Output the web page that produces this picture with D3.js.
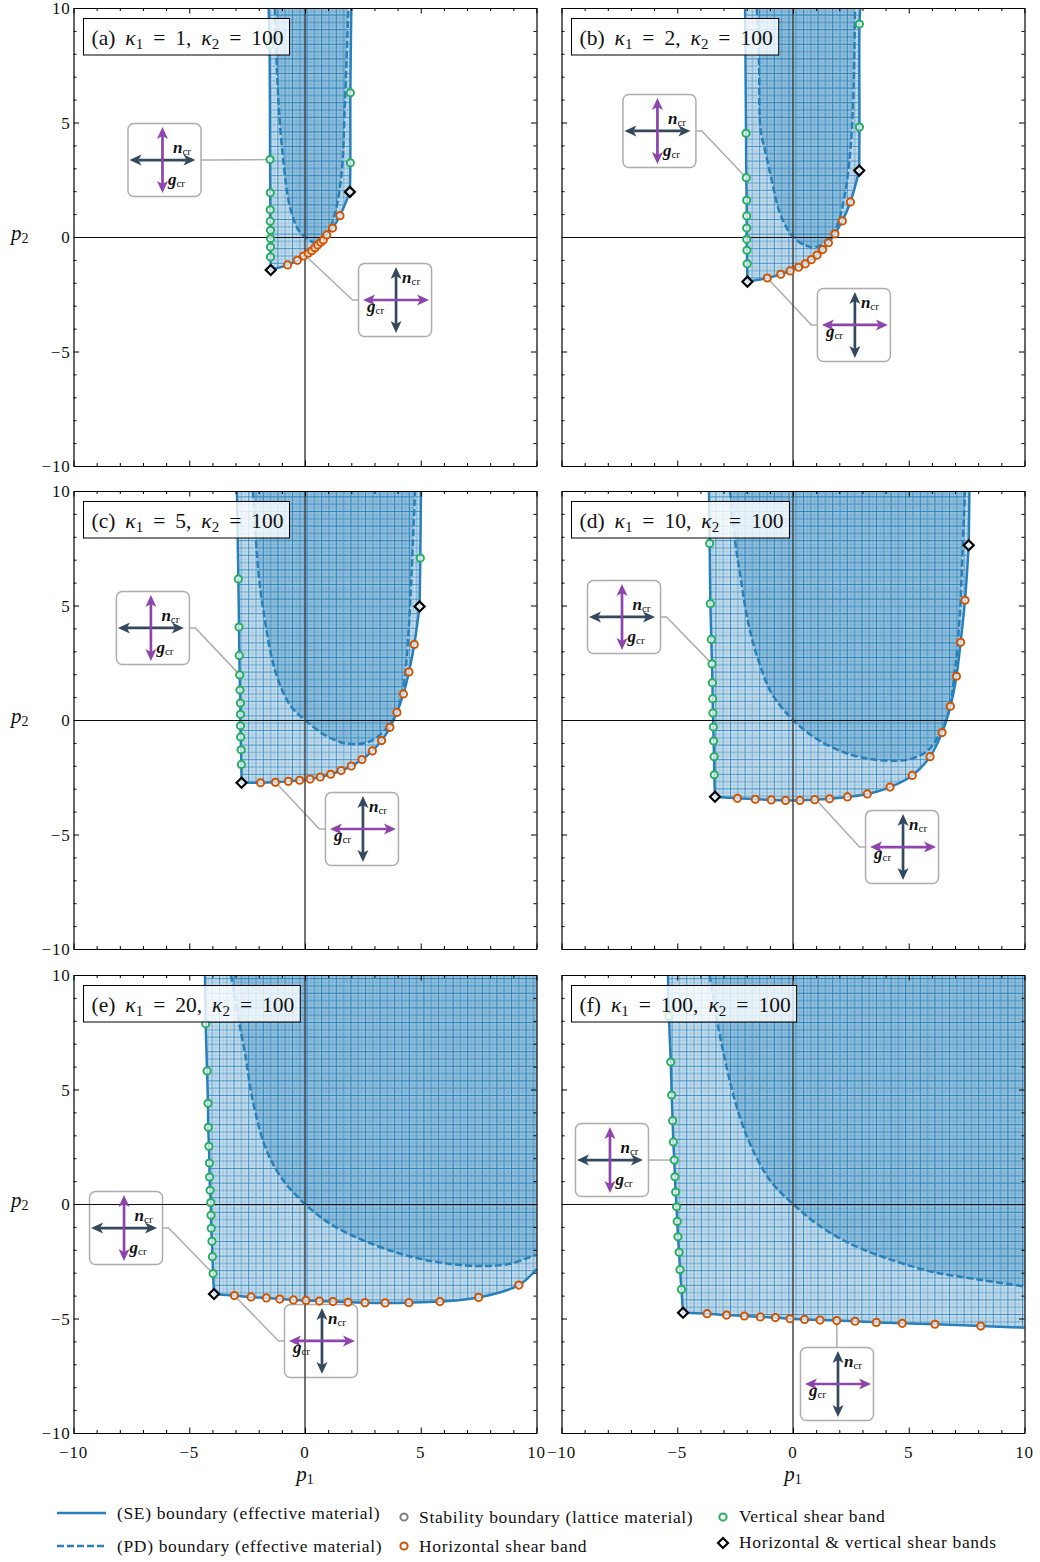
<!DOCTYPE html>
<html>
<head>
<meta charset="utf-8">
<script src="https://cdnjs.cloudflare.com/ajax/libs/d3/7.8.5/d3.min.js"></script>
<style>
  html, body { margin: 0; padding: 0; background: #fff; }
  text { font-family: "Liberation Serif", serif; fill: #111; }
</style>
</head>
<body>
<svg id="chart" width="1040" height="1562"></svg>
<script>
var panelLetters = ['a', 'b', 'c', 'd', 'e', 'f'];
var kappa1Values = [1, 2, 5, 10, 20, 100];
var kappa2Value = 100;
var majorTicks = [-10, -5, 0, 5, 10];
var minorTicks = [-9, -8, -7, -6, -4, -3, -2, -1, 1, 2, 3, 4, 6, 7, 8, 9];

// All in (p1, p2).
var leftTopA = [-1.57, 10];
var leftGreenA = [[-1.53, 8.38], [-1.51, 3.38], [-1.50, 1.93], [-1.50, 1.19], [-1.50, 0.69], [-1.49, 0.29], [-1.49, -0.07], [-1.49, -0.44], [-1.49, -0.87]];
var cornersA = [[-1.48, -1.44], [1.94, 1.97]];
var orangeA = [[-0.75, -1.22], [-0.33, -1.02], [-0.06, -0.83], [0.14, -0.71], [0.29, -0.60], [0.43, -0.47], [0.55, -0.35], [0.68, -0.23], [0.79, -0.13], [0.94, 0.09], [1.19, 0.39], [1.51, 0.93]];
var rightGreenA = [[1.96, 3.24], [1.96, 6.30]];
var endA = [2.0, 10];
var pdA = [[-1.30, 10], [-1.27, 8.9], [-1.15, 5.98], [-0.94, 3.36], [-0.65, 1.31], [-0.29, 0.31], [0, 0], [0.5, -0.27], [0.94, 0.09], [1.30, 1.05], [1.58, 2.79], [1.73, 5.98], [1.87, 10]];

var leftTopB = [-2.07, 10];
var leftGreenB = [[-2.03, 4.53], [-2.02, 2.59], [-2.00, 1.60], [-2.00, 0.92], [-2.00, 0.39], [-2.00, -0.10], [-1.99, -0.58], [-1.98, -1.17]];
var cornersB = [[-1.97, -1.95], [2.86, 2.90]];
var orangeB = [[-1.11, -1.79], [-0.53, -1.63], [-0.12, -1.48], [0.24, -1.32], [0.53, -1.17], [0.79, -0.99], [1.04, -0.79], [1.28, -0.55], [1.53, -0.25], [1.81, 0.14], [2.13, 0.70], [2.48, 1.53]];
var rightGreenB = [[2.87, 4.80], [2.87, 9.30]];
var endB = [2.9, 10];
var pdB = [[-1.56, 10], [-1.47, 7.73], [-1.40, 4.67], [-1.21, 3.8], [-0.92, 2.49], [-0.56, 1.03], [0, 0], [0.59, -0.39], [0.95, -0.45], [1.51, -0.13], [1.89, 0.45], [2.25, 1.91], [2.49, 3.94], [2.60, 6], [2.68, 10]];

var leftTopC = [-2.94, 10];
var leftGreenC = [[-2.88, 6.16], [-2.85, 4.06], [-2.84, 2.82], [-2.82, 1.97], [-2.81, 1.31], [-2.79, 0.74], [-2.79, 0.25], [-2.79, -0.25], [-2.78, -0.74], [-2.76, -1.30], [-2.75, -1.94]];
var cornersC = [[-2.74, -2.74], [4.95, 4.96]];
var orangeC = [[-1.92, -2.74], [-1.28, -2.72], [-0.72, -2.68], [-0.23, -2.63], [0.22, -2.58], [0.66, -2.49], [1.11, -2.37], [1.56, -2.21], [2.0, -2.01], [2.46, -1.73], [2.91, -1.35], [3.31, -0.90], [3.67, -0.32], [3.97, 0.33], [4.25, 1.14], [4.49, 2.10], [4.72, 3.30]];
var rightGreenC = [[4.98, 7.07]];
var endC = [5.01, 10];
var pdC = [[-2.25, 10], [-2.02, 6.55], [-1.80, 4.80], [-1.30, 2.18], [-0.65, 0.66], [0, 0], [0.86, -0.66], [1.58, -0.98], [2.30, -1.05], [2.88, -0.90], [3.46, -0.44], [3.89, 0.15], [4.25, 1.46], [4.46, 3.64], [4.61, 6.55], [4.75, 10]];

var leftTopD = [-3.63, 10];
var leftGreenD = [[-3.60, 7.71], [-3.57, 5.08], [-3.53, 3.52], [-3.50, 2.45], [-3.48, 1.63], [-3.47, 0.93], [-3.46, 0.31], [-3.44, -0.31], [-3.43, -0.92], [-3.41, -1.60], [-3.40, -2.39]];
var cornersD = [[-3.37, -3.35], [7.59, 7.63]];
var orangeD = [[-2.40, -3.42], [-1.63, -3.46], [-0.94, -3.49], [-0.32, -3.51], [0.30, -3.51], [0.94, -3.48], [1.58, -3.44], [2.35, -3.36], [3.21, -3.23], [4.19, -2.93], [5.15, -2.42], [5.92, -1.60], [6.44, -0.55], [6.80, 0.60], [7.06, 1.91], [7.24, 3.39], [7.43, 5.23]];
var rightGreenD = [];
var endD = [7.62, 10];
var pdD = [[-2.72, 10], [-2.51, 7.86], [-2.29, 6.40], [-1.93, 4.22], [-1.50, 2.62], [-0.92, 1.16], [0, 0], [1.09, -0.87], [2.25, -1.43], [3.25, -1.69], [4.26, -1.78], [5.13, -1.69], [5.85, -1.31], [6.35, -0.58], [6.71, 0.29], [7.0, 2.18], [7.21, 4.66], [7.33, 7.57], [7.43, 10]];

var leftTopE = [-4.32, 10];
var leftGreenE = [[-4.29, 7.87], [-4.23, 5.81], [-4.19, 4.40], [-4.18, 3.35], [-4.15, 2.52], [-4.13, 1.79], [-4.12, 1.18], [-4.10, 0.60], [-4.07, 0.06], [-4.06, -0.49], [-4.05, -1.06], [-4.02, -1.63], [-4.00, -2.30], [-3.97, -3.04]];
var cornersE = [[-3.93, -3.93]];
var orangeE = [[-3.05, -4.00], [-2.33, -4.06], [-1.67, -4.10], [-1.09, -4.15], [-0.50, -4.19], [0.04, -4.21], [0.62, -4.24], [1.21, -4.26], [1.86, -4.29], [2.59, -4.31], [3.46, -4.32], [4.49, -4.31], [5.83, -4.26], [7.50, -4.08], [9.24, -3.54]];
var rightGreenE = [];
var endE = [10, -2.85];
var pdE = [[-3.20, 10], [-2.81, 7.73], [-2.59, 6.56], [-2.23, 4.38], [-1.66, 2.34], [-0.94, 1.03], [0, 0], [1.08, -0.86], [2.52, -1.59], [4.25, -2.21], [5.98, -2.58], [7.70, -2.71], [8.86, -2.61], [10, -2.21]];

var leftTopF = [-5.40, 10];
var leftGreenF = [[-5.36, 8.20], [-5.28, 6.20], [-5.24, 4.76], [-5.20, 3.64], [-5.17, 2.71], [-5.13, 1.92], [-5.10, 1.19], [-5.07, 0.52], [-5.03, -0.12], [-5.00, -0.76], [-4.97, -1.43], [-4.92, -2.11], [-4.88, -2.87], [-4.82, -3.73]];
var cornersF = [[-4.75, -4.75]];
var orangeF = [[-3.71, -4.79], [-2.87, -4.85], [-2.10, -4.89], [-1.41, -4.93], [-0.76, -4.96], [-0.13, -5.01], [0.50, -5.04], [1.17, -5.07], [1.89, -5.09], [2.68, -5.12], [3.60, -5.17], [4.72, -5.21], [6.13, -5.25], [8.11, -5.33]];
var rightGreenF = [];
var endF = [10, -5.40];
var pdF = [[-3.60, 10], [-3.23, 7.73], [-2.87, 5.98], [-2.43, 4.24], [-1.86, 2.63], [-0.99, 1.03], [0, 0], [1.02, -0.86], [2.46, -1.73], [4.19, -2.42], [6.06, -2.97], [8.22, -3.33], [10, -3.60]];

// Inset centre and the point its leader goes to, both in (p1, p2).
var insetsA = [
  {kind: 'vertical', center: [-6.07, 3.36], target: [-1.51, 3.38], side: 'right'},
  {kind: 'horizontal', center: [3.89, -2.75], target: [0, -0.80], side: 'left'}
];
var insetsB = [
  {kind: 'vertical', center: [-5.77, 4.63], target: [-2.02, 2.59], side: 'right'},
  {kind: 'horizontal', center: [2.63, -3.84], target: [-1.11, -1.79], side: 'left'}
];
var insetsC = [
  {kind: 'vertical', center: [-6.57, 4.02], target: [-2.82, 1.97], side: 'right'},
  {kind: 'horizontal', center: [2.46, -4.76], target: [-1.28, -2.72], side: 'left'}
];
var insetsD = [
  {kind: 'vertical', center: [-7.30, 4.50], target: [-3.50, 2.45], side: 'right'},
  {kind: 'horizontal', center: [4.71, -5.55], target: [1.0, -3.48], side: 'left'}
];
var insetsE = [
  {kind: 'vertical', center: [-7.73, -1.05], target: [-3.97, -3.04], side: 'right'},
  {kind: 'horizontal', center: [0.69, -5.98], target: [-3.05, -4.00], side: 'left'}
];
var insetsF = [
  {kind: 'vertical', center: [-7.82, 1.92], target: [-5.13, 1.92], side: 'right'},
  {kind: 'horizontal', center: [1.90, -7.86], target: [1.89, -5.09], side: 'top'}
];

var legendLineLabels = ['(SE) boundary (effective material)', '(PD) boundary (effective material)'];
var legendMiddleLabels = ['Stability boundary (lattice material)', 'Horizontal shear band'];
var legendRightLabels = ['Vertical shear band', 'Horizontal & vertical shear bands'];

var blue = '#2980b9';
var green = '#27ae60';
var orange = '#d35400';
var navy = '#34495e';
var purple = '#8e44ad';
var grey = '#adadad';

var panelWidth = 463;
var panelHeight = 458;
var colLeft = [73.5, 561.5];
var rowTop = [8, 491, 975];

var svg = d3.select('#chart');
var defs = svg.append('defs');

var hatch = defs.append('pattern')
  .attr('id', 'hatch')
  .attr('patternUnits', 'userSpaceOnUse')
  .attr('width', 14.6)
  .attr('height', 14.6);
[[0.5, 0.8], [4.2, 0.18], [7.8, 0.6], [11.5, 0.18]].forEach(function (l) {
  hatch.append('line').attr('x1', l[0]).attr('x2', l[0]).attr('y1', 0).attr('y2', 14.6)
    .attr('stroke', blue).attr('stroke-width', 1).attr('stroke-opacity', l[1]);
  hatch.append('line').attr('y1', l[0]).attr('y2', l[0]).attr('x1', 0).attr('x2', 14.6)
    .attr('stroke', blue).attr('stroke-width', 1).attr('stroke-opacity', l[1]);
});

function drawPanel (index, data) {
  var col = index % 2;
  var row = Math.floor(index / 2);
  var left = colLeft[col];
  var top = rowTop[row];
  var x = d3.scaleLinear().domain([-10, 10]).range([left, left + panelWidth]);
  var y = d3.scaleLinear().domain([-10, 10]).range([top + panelHeight, top]);
  var clipId = 'clip-' + index;

  defs.append('clipPath').attr('id', clipId).append('rect')
    .attr('x', left).attr('y', top).attr('width', panelWidth + 1).attr('height', panelHeight);

  var curve = d3.line()
    .x(function (d) { return x(d[0]); })
    .y(function (d) { return y(d[1]); })
    .curve(d3.curveCatmullRom.alpha(0.5));

  // The boundary has sharp corners at the diamonds, so each branch is its own curve.
  var branches = [[data.leftTop].concat(data.leftGreen, [data.corners[0]])];
  if (data.corners.length > 1) {
    branches.push([data.corners[0]].concat(data.orange, [data.corners[1]]));
    branches.push([data.corners[1]].concat(data.rightGreen, [data.end]));
  } else {
    branches.push([data.corners[0]].concat(data.orange, [data.end]));
  }
  var sePath = branches.map(function (b, i) {
    var d = curve(b);
    return i === 0 ? d : d.replace('M', 'L');
  }).join('');
  var seArea = sePath + 'L' + x(data.end[0]) + ',' + y(10) + 'Z';
  var pdEnd = data.pd[data.pd.length - 1];
  var pdArea = curve(data.pd) + 'L' + x(pdEnd[0]) + ',' + y(10) + 'Z';

  var clipped = svg.append('g').attr('clip-path', 'url(#' + clipId + ')');

  clipped.append('path').attr('d', seArea).attr('fill', blue).attr('fill-opacity', 0.27);
  clipped.append('path').attr('d', seArea).attr('fill', 'url(#hatch)');
  clipped.append('path').attr('d', pdArea).attr('fill', blue).attr('fill-opacity', 0.3);
  clipped.append('path').attr('d', pdArea).attr('fill', 'url(#hatch)').attr('fill-opacity', 0.5);

  // leaders and boxes sit under the zero lines
  data.insets.forEach(function (inset) {
    var cx = x(inset.center[0]);
    var cy = y(inset.center[1]);
    var half = 36.5;
    var pts;
    if (inset.side === 'top') {
      pts = [[cx, cy - half], [x(inset.target[0]), y(inset.target[1])]];
    } else {
      var sign = inset.side === 'right' ? 1 : -1;
      pts = [[cx + sign * half, cy], [cx + sign * (half + 6), cy], [x(inset.target[0]), y(inset.target[1])]];
    }
    svg.append('path').attr('d', d3.line()(pts))
      .attr('fill', 'none').attr('stroke', grey).attr('stroke-width', 1.5);
    svg.append('rect')
      .attr('x', cx - half).attr('y', cy - half)
      .attr('width', 2 * half).attr('height', 2 * half)
      .attr('rx', 6)
      .attr('fill', '#fff').attr('fill-opacity', 0.9)
      .attr('stroke', grey).attr('stroke-width', 1.5);
  });

  svg.append('line')
    .attr('x1', left).attr('x2', left + panelWidth)
    .attr('y1', y(0)).attr('y2', y(0))
    .attr('stroke', '#111').attr('stroke-width', 1)
    .attr('shape-rendering', 'crispEdges');
  svg.append('line')
    .attr('x1', x(0)).attr('x2', x(0))
    .attr('y1', top).attr('y2', top + panelHeight)
    .attr('stroke', '#444').attr('stroke-width', 1.5);

  clipped.append('path').attr('d', curve(data.pd))
    .attr('fill', 'none').attr('stroke', blue).attr('stroke-width', 2.5)
    .attr('stroke-dasharray', '7,3');
  clipped.append('path').attr('d', sePath)
    .attr('fill', 'none').attr('stroke', blue).attr('stroke-width', 2.5);

  drawCircles(data.leftGreen.concat(data.rightGreen), green, x, y);
  drawCircles(data.orange, orange, x, y);

  svg.selectAll(null).data(data.corners).enter().append('path')
    .attr('d', d3.symbol(d3.symbolDiamond2, 64))
    .attr('transform', function (d) { return 'translate(' + x(d[0]) + ',' + y(d[1]) + ')'; })
    .attr('fill', '#fff').attr('fill-opacity', 0.8)
    .attr('stroke', '#000').attr('stroke-width', 2.2);

  data.insets.forEach(function (inset) {
    drawCross(x(inset.center[0]), y(inset.center[1]), inset.kind);
  });

  drawAxes(x, y, left, top, col === 0, row === 2);
  drawTitle(left, top, index);
}

function drawCircles (points, color, x, y) {
  svg.selectAll(null).data(points).enter().append('circle')
    .attr('cx', function (d) { return x(d[0]); })
    .attr('cy', function (d) { return y(d[1]); })
    .attr('r', 3.6)
    .attr('fill', '#fff').attr('fill-opacity', 0.7)
    .attr('stroke', color).attr('stroke-width', 2);
}

function drawArrow (cx, cy, angle, color) {
  var g = svg.append('g')
    .attr('transform', 'translate(' + cx + ',' + cy + ') rotate(' + angle + ')');
  g.append('line').attr('x1', -24).attr('x2', 24).attr('y1', 0).attr('y2', 0)
    .attr('stroke', color).attr('stroke-width', 2.7);
  g.append('path').attr('d', 'M33,0L21,-5.5L24,0L21,5.5Z M-33,0L-21,-5.5L-24,0L-21,5.5Z').attr('fill', color);
}

function drawSymbol (px, py, letter) {
  var t = svg.append('text').attr('x', px).attr('y', py);
  t.append('tspan').text(letter)
    .attr('font-size', 17).attr('font-weight', 'bold').attr('font-style', 'italic');
  t.append('tspan').text('cr').attr('font-size', 11).attr('dy', 2);
}

function drawCross (cx, cy, kind) {
  if (kind === 'vertical') {
    // band runs vertically: n points sideways
    drawArrow(cx - 2, cy, 0, navy);
    drawArrow(cx - 2, cy, 90, purple);
    drawSymbol(cx + 8.5, cy - 7, 'n');
    drawSymbol(cx + 3.5, cy + 25, 'g');
  } else {
    drawArrow(cx + 1, cy, 90, navy);
    drawArrow(cx + 1, cy, 0, purple);
    drawSymbol(cx + 7, cy - 17, 'n');
    drawSymbol(cx - 28, cy + 12, 'g');
  }
}

function minusFormat (d) {
  return String(d).replace('-', '\u2212');
}

function drawAxes (x, y, left, top, showY, showX) {
  var bottom = top + panelHeight;
  var right = left + panelWidth;
  var sides = [
    {axis: d3.axisBottom(x), at: [0, bottom], scale: x},
    {axis: d3.axisTop(x), at: [0, top], scale: x},
    {axis: d3.axisLeft(y), at: [left, 0], scale: y},
    {axis: d3.axisRight(y), at: [right, 0], scale: y}
  ];
  sides.forEach(function (s) {
    var minor = svg.append('g').attr('transform', 'translate(' + s.at[0] + ',' + s.at[1] + ')')
      .call(s.axis.tickValues(minorTicks).tickSize(-3).tickFormat(''));
    minor.select('.domain').remove();
    var major = svg.append('g').attr('transform', 'translate(' + s.at[0] + ',' + s.at[1] + ')')
      .call(s.axis.tickValues(majorTicks).tickSizeInner(-5.5).tickSizeOuter(0).tickFormat(''));
    major.select('.domain').attr('stroke', '#000').attr('stroke-width', 1.2);
    svg.selectAll('g.tick line').attr('stroke', '#000').attr('stroke-width', 1);
  });

  if (showY) {
    svg.selectAll(null).data(majorTicks).enter().append('text')
      .attr('x', left - 3)
      .attr('y', function (d) { return y(d) + 6; })
      .attr('text-anchor', 'end')
      .attr('font-size', 17)
      .attr('letter-spacing', 0.8)
      .text(minusFormat);
    var yLabel = svg.append('text').attr('x', 11).attr('y', y(0) + 3).attr('font-size', 21);
    yLabel.append('tspan').text('p').attr('font-style', 'italic');
    yLabel.append('tspan').text('2').attr('font-size', 14).attr('dy', 3);
  }
  if (showX) {
    svg.selectAll(null).data(majorTicks).enter().append('text')
      .attr('x', x)
      .attr('y', bottom + 25)
      .attr('text-anchor', 'middle')
      .attr('font-size', 17)
      .attr('letter-spacing', 0.8)
      .text(minusFormat);
    var xLabel = svg.append('text').attr('x', x(0)).attr('y', bottom + 48)
      .attr('text-anchor', 'middle').attr('font-size', 21);
    xLabel.append('tspan').text('p').attr('font-style', 'italic');
    xLabel.append('tspan').text('1').attr('font-size', 14).attr('dy', 3);
  }
}

function drawTitle (left, top, index) {
  var box = svg.append('rect')
    .attr('x', left + 10).attr('y', top + 10.5)
    .attr('height', 36.5)
    .attr('fill', '#fff').attr('fill-opacity', 0.8)
    .attr('stroke', '#000').attr('stroke-width', 1);
  var t = svg.append('text').attr('x', left + 18).attr('y', top + 37).attr('font-size', 21.5)
    .attr('word-spacing', 4.6);
  t.append('tspan').text('(' + panelLetters[index] + ') ');
  t.append('tspan').text('\u03ba').attr('font-style', 'italic');
  t.append('tspan').text('1').attr('font-size', 15).attr('dy', 4);
  t.append('tspan').text(' = ' + kappa1Values[index] + ', ').attr('dy', -4);
  t.append('tspan').text('\u03ba').attr('font-style', 'italic');
  t.append('tspan').text('2').attr('font-size', 15).attr('dy', 4);
  t.append('tspan').text(' = ' + kappa2Value).attr('dy', -4);
  box.attr('width', t.node().getComputedTextLength() + 14);
}

function drawLegend () {
  var lineY = [1513, 1546];
  var textSize = 17.5;
  var textSpacing = 0.65;
  legendLineLabels.forEach(function (label, i) {
    svg.append('line').attr('x1', 57).attr('x2', 106).attr('y1', lineY[i]).attr('y2', lineY[i])
      .attr('stroke', blue).attr('stroke-width', 2.5)
      .attr('stroke-dasharray', i === 1 ? '7,3' : null);
    svg.append('text').attr('x', 117).attr('y', lineY[i] + 6).attr('font-size', textSize)
      .attr('letter-spacing', textSpacing).text(label);
  });

  var middleY = [1517, 1546];
  var middleColor = ['#7f7f7f', orange];
  legendMiddleLabels.forEach(function (label, i) {
    svg.append('circle').attr('cx', 404).attr('cy', middleY[i]).attr('r', 3.6)
      .attr('fill', '#fff').attr('stroke', middleColor[i]).attr('stroke-width', 2);
    svg.append('text').attr('x', 419).attr('y', middleY[i] + 6).attr('font-size', textSize)
      .attr('letter-spacing', textSpacing).text(label);
  });

  var rightY = [1517, 1543];
  legendRightLabels.forEach(function (label, i) {
    if (i === 0) {
      svg.append('circle').attr('cx', 723).attr('cy', rightY[i]).attr('r', 3.6)
        .attr('fill', '#fff').attr('stroke', green).attr('stroke-width', 2);
    } else {
      svg.append('path').attr('d', d3.symbol(d3.symbolDiamond2, 64))
        .attr('transform', 'translate(723,' + rightY[i] + ')')
        .attr('fill', '#fff').attr('stroke', '#000').attr('stroke-width', 2.2);
    }
    svg.append('text').attr('x', 739).attr('y', rightY[i] + 5).attr('font-size', textSize)
      .attr('letter-spacing', textSpacing).text(label);
  });
}

var panels = [
  {leftTop: leftTopA, leftGreen: leftGreenA, corners: cornersA, orange: orangeA, rightGreen: rightGreenA, end: endA, pd: pdA, insets: insetsA},
  {leftTop: leftTopB, leftGreen: leftGreenB, corners: cornersB, orange: orangeB, rightGreen: rightGreenB, end: endB, pd: pdB, insets: insetsB},
  {leftTop: leftTopC, leftGreen: leftGreenC, corners: cornersC, orange: orangeC, rightGreen: rightGreenC, end: endC, pd: pdC, insets: insetsC},
  {leftTop: leftTopD, leftGreen: leftGreenD, corners: cornersD, orange: orangeD, rightGreen: rightGreenD, end: endD, pd: pdD, insets: insetsD},
  {leftTop: leftTopE, leftGreen: leftGreenE, corners: cornersE, orange: orangeE, rightGreen: rightGreenE, end: endE, pd: pdE, insets: insetsE},
  {leftTop: leftTopF, leftGreen: leftGreenF, corners: cornersF, orange: orangeF, rightGreen: rightGreenF, end: endF, pd: pdF, insets: insetsF}
];

panels.forEach(function (data, i) {
  drawPanel(i, data);
});
drawLegend();
</script>
</body>
</html>
